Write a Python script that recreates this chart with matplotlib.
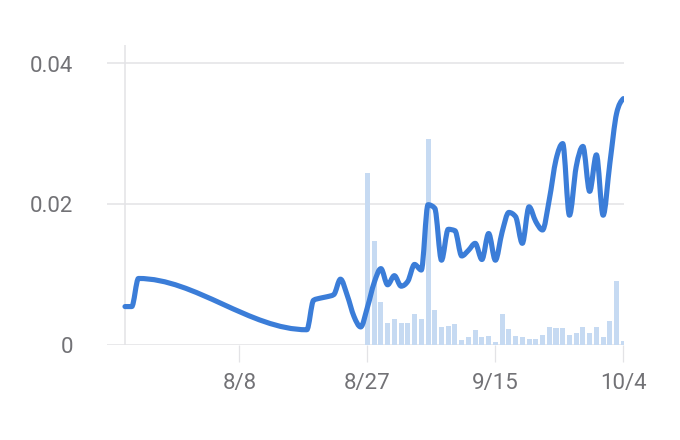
import numpy as np
import matplotlib
matplotlib.use("Agg")
import matplotlib.pyplot as plt
import matplotlib.dates as mdates
from matplotlib.path import Path
from matplotlib.patches import PathPatch

plt.rcParams['font.family'] = ['Roboto', 'DejaVu Sans']

# ---- data ----
line_dates = ["2020-07-22", "2020-07-23", "2020-07-24", "2020-08-18", "2020-08-19",
              "2020-08-20", "2020-08-21", "2020-08-22", "2020-08-23", "2020-08-24",
              "2020-08-25", "2020-08-26", "2020-08-27", "2020-08-28", "2020-08-29",
              "2020-08-30", "2020-08-31", "2020-09-01", "2020-09-02", "2020-09-03",
              "2020-09-04", "2020-09-05", "2020-09-06", "2020-09-07", "2020-09-08",
              "2020-09-09", "2020-09-10", "2020-09-11", "2020-09-12", "2020-09-13",
              "2020-09-14", "2020-09-15", "2020-09-16", "2020-09-17", "2020-09-18",
              "2020-09-19", "2020-09-20", "2020-09-21", "2020-09-22", "2020-09-23",
              "2020-09-24", "2020-09-25", "2020-09-26", "2020-09-27", "2020-09-28",
              "2020-09-29", "2020-09-30", "2020-10-01", "2020-10-02", "2020-10-03",
              "2020-10-04"]
line_values = [0.0054, 0.0054, 0.0094, 0.0021, 0.0063,
               0.0066, 0.0068, 0.0071, 0.0093, 0.0070,
               0.0040, 0.0025, 0.0053, 0.0088, 0.0108,
               0.0085, 0.0098, 0.0083, 0.0090, 0.0114,
               0.0106, 0.0199, 0.0194, 0.0120, 0.0164,
               0.0162, 0.0126, 0.0134, 0.0144, 0.0121,
               0.0158, 0.0120, 0.0160, 0.0188, 0.0182,
               0.0144, 0.0196, 0.0175, 0.0163, 0.0206,
               0.0263, 0.0286, 0.0184, 0.0253, 0.0282,
               0.0218, 0.0270, 0.0184, 0.0258, 0.0329,
               0.0350]

bar_start = "2020-08-27"
bar_values = [0.0244, 0.0148, 0.0061, 0.0031, 0.0036, 0.0030, 0.0030, 0.0044, 0.0036, 0.0292,
              0.0049, 0.0025, 0.0026, 0.0029, 0.0006, 0.0010, 0.0020, 0.0011, 0.0012, 0.0004,
              0.0043, 0.0022, 0.0012, 0.0011, 0.0008, 0.0008, 0.0013, 0.0025, 0.0024, 0.0024,
              0.0013, 0.0016, 0.0025, 0.0017, 0.0025, 0.0010, 0.0034, 0.0090, 0.0005]

x_tick_dates = ["2020-08-08", "2020-08-27", "2020-09-15", "2020-10-04"]
x_tick_labels = ["8/8", "8/27", "9/15", "10/4"]
y_ticks = [0, 0.02, 0.04]
y_tick_labels = ["0", "0.02", "0.04"]

# ---- helpers ----
def monotone_path(xs, ys):
    xs = np.asarray(xs, float); ys = np.asarray(ys, float)
    n = len(xs)
    t = np.zeros(n)
    for i in range(1, n - 1):
        h0 = xs[i] - xs[i - 1]; h1 = xs[i + 1] - xs[i]
        s0 = (ys[i] - ys[i - 1]) / h0; s1 = (ys[i + 1] - ys[i]) / h1
        p = (s0 * h1 + s1 * h0) / (h0 + h1)
        t[i] = (np.sign(s0) + np.sign(s1)) * min(abs(s0), abs(s1), 0.5 * abs(p))
    h = xs[1] - xs[0]
    t[0] = (3 * (ys[1] - ys[0]) / h - t[1]) / 2
    h = xs[-1] - xs[-2]
    t[-1] = (3 * (ys[-1] - ys[-2]) / h - t[-2]) / 2
    verts = [(xs[0], ys[0])]
    codes = [Path.MOVETO]
    for i in range(n - 1):
        dx = (xs[i + 1] - xs[i]) / 3
        verts += [(xs[i] + dx, ys[i] + dx * t[i]),
                  (xs[i + 1] - dx, ys[i + 1] - dx * t[i + 1]),
                  (xs[i + 1], ys[i + 1])]
        codes += [Path.CURVE4] * 3
    return Path(verts, codes)

lx = mdates.date2num(np.array(line_dates, dtype="datetime64[D]"))
bx = mdates.date2num(np.datetime64(bar_start) + np.arange(len(bar_values)))

fig = plt.figure(figsize=(6.8, 4.4), dpi=100)
ax = fig.add_axes([107 / 680, 95.5 / 440, 517 / 680, 299.5 / 440])

grid_c = "#e3e3e6"
ax.bar(bx, bar_values, width=0.75, color="#c6daf2", zorder=2)
ax.add_patch(PathPatch(monotone_path(lx, line_values), fill=False,
                       edgecolor="#3b7dd8", linewidth=3.7, capstyle="round",
                       joinstyle="round", zorder=3))

for yv in y_ticks:
    ax.axhline(yv, color=grid_c, linewidth=1.1, zorder=1)
ax.axvline(lx[0], color=grid_c, linewidth=1.1, zorder=1)

ax.set_xlim(mdates.date2num(np.datetime64("2020-07-22")) - 18 / 6.737,
            mdates.date2num(np.datetime64("2020-10-04")) + 0.1)
ax.set_ylim(0, 299.5 / 7025)

ax.set_xticks(mdates.date2num(np.array(x_tick_dates, dtype="datetime64[D]")))
ax.set_xticklabels(x_tick_labels)
ax.set_yticks(y_ticks)
ax.set_yticklabels(y_tick_labels)
ax.tick_params(axis="x", length=12.5, width=0.9, color=grid_c, pad=8,
               labelsize=16, labelcolor="#727276")
ax.tick_params(axis="y", length=0, pad=24.5, labelsize=16, labelcolor="#727276")
for s in ax.spines.values():
    s.set_visible(False)

fig.savefig("out.png", dpi=100)
